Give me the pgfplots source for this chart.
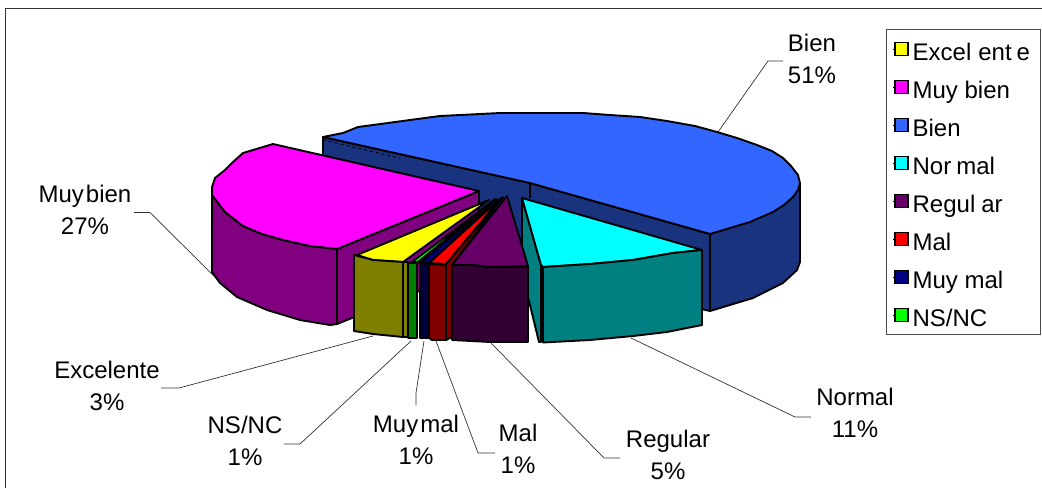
\documentclass[border=0pt]{standalone}
\usepackage{fontspec}
\setmainfont{Liberation Sans}
\usepackage{pgfplots}
\pgfplotsset{compat=1.18}

\definecolor{cBien}{HTML}{3366FF}
\definecolor{cBienS}{HTML}{1A337F}
\definecolor{cMuyBien}{HTML}{FF00FF}
\definecolor{cMuyBienS}{HTML}{800080}
\definecolor{cNormal}{HTML}{00FFFF}
\definecolor{cNormalS}{HTML}{008080}
\definecolor{cRegular}{HTML}{660066}
\definecolor{cRegularS}{HTML}{330033}
\definecolor{cMal}{HTML}{FF0000}
\definecolor{cMalS}{HTML}{800000}
\definecolor{cMuyMal}{HTML}{000080}
\definecolor{cMuyMalS}{HTML}{000040}
\definecolor{cNsnc}{HTML}{00FF00}
\definecolor{cNsncS}{HTML}{008000}
\definecolor{cExc}{HTML}{FFFF00}
\definecolor{cExcS}{HTML}{808000}

\pgfplotsset{
  slice/.style={draw=black,line width=1.9pt,line join=round,forget plot},
  leader/.style={draw=black!80,line width=0.7pt,forget plot},
}
\tikzset{lbl/.style={align=center,font=\fontsize{24}{32}\selectfont,inner sep=0pt}}

\begin{document}
\begin{tikzpicture}
\begin{axis}[
  width=1042pt,height=488pt,scale only axis,
  xmin=0,xmax=1042,ymin=0,ymax=488,y dir=reverse,
  hide axis,
  legend style={at={(axis cs:886,29)},anchor=north west,draw=black!70,line width=0.9pt,
    font=\fontsize{24}{28}\selectfont,inner xsep=6pt,inner ysep=6pt,row sep=11pt,
    nodes={inner xsep=4pt,inner ysep=1pt,text height=24pt,text depth=1pt}},
  legend cell align=left,
  legend image code/.code={\path (0pt,0pt) -- (2pt,0pt);\draw[#1,line width=1.5pt] (2pt,-6.5pt) rectangle (15pt,6.5pt);},
]
\path (axis cs:0,0) -- (axis cs:1042,488);
% frame
\addplot[draw=black!80,line width=1.3pt,forget plot] coordinates {(5.5,488) (5.5,8.5) (1042,8.5)};

% leaders
\addplot[leader] coordinates {(783,61) (768,61) (718,132)};
\addplot[leader] coordinates {(134,212.5) (150,212.5) (214,276)};
\addplot[leader] coordinates {(161,388) (179,388) (373,336)};
\addplot[leader] coordinates {(284,444) (300,444) (411,341)};
\addplot[leader] coordinates {(416,405) (416,393) (424,341)};
\addplot[leader] coordinates {(495,453) (478,453) (436,341)};
\addplot[leader] coordinates {(620,458) (604,458) (491,343)};
\addplot[leader] coordinates {(811,417) (795,417) (631,338)};

% Bien
\addplot[slice,fill=cBienS] coordinates {(323,137) (530,183) (710,234) (710,311) (530,270) (323,213)} --cycle;
\addplot[slice,fill=cBienS] coordinates {(710,234) (800,183) (800,262) (797,270) (783,283) (753,298) (710,311)} --cycle;
\addplot[slice,fill=cBien] coordinates {(323,137) (343,133) (358,127) (373,125) (410,120) (440,116) (500,113) (583,113) (610,115) (640,117) (667,121) (695,126) (717,132) (737,138) (757,145) (772,151) (783,158) (791,166) (798,175) (800,183) (798,190) (793,197) (784,205) (773,212) (750,222) (730,228) (710,234) (530,183)} --cycle;
\addplot[draw=black,line width=1.3pt,forget plot] coordinates {(530,183) (530,198)};
\addplot[draw=black,line width=0.9pt,dashed,forget plot] coordinates {(323,140) (400,158)};

% Muy bien
\addplot[slice,fill=cMuyBienS] coordinates {(337,249) (479,191) (479,267) (337,324)} --cycle;
\addplot[slice,fill=cMuyBienS] coordinates {(212,195) (225,212) (243,226) (262,234) (283,240) (310,246) (337,249) (337,324) (330,325) (300,320) (267,310) (237,297) (220,283) (212,272)} --cycle;
\addplot[slice,fill=cMuyBien] coordinates {(479,191) (273,144) (243,153) (233,162) (225,170) (215,178) (212,187) (212,195) (225,212) (243,226) (262,234) (283,240) (310,246) (337,249)} --cycle;

% Normal
\addplot[slice,fill=cNormalS] coordinates {(522,198) (541,265) (541,342) (539,342) (528,297) (522,270)} --cycle;
\addplot[slice,fill=cNormal] coordinates {(522,198) (702,250) (673,253) (633,260) (590,264) (543,267) (541,265)} --cycle;
\addplot[slice,fill=cNormalS] coordinates {(543,267) (590,264) (633,260) (673,253) (702,250) (702,325) (667,332) (633,336) (590,340) (543,342.5)} --cycle;

% Regular
\addplot[slice,fill=cRegular] coordinates {(507,196) (528,266) (487,267) (473,265) (452,265)} --cycle;
\addplot[slice,fill=cRegularS] coordinates {(452,265) (473,265) (487,267) (528,267) (528,342) (490,342) (452,340)} --cycle;

% Mal
\addplot[slice,fill=cMalS] coordinates {(503,197) (452,265) (452,337) (446,340) (446,264)} --cycle;
\addplot[slice,fill=cMal] coordinates {(501,198) (446,264) (429,263)} --cycle;
\addplot[slice,fill=cMalS] coordinates {(429,264) (446,265) (446,340) (432,340) (429,338)} --cycle;

% Muy mal
\addplot[slice,fill=cMuyMal] coordinates {(497,199) (429,263) (420,263)} --cycle;
\addplot[slice,fill=cMuyMalS] coordinates {(420,263) (429,264) (429,338) (420,338)} --cycle;

% NS/NC
\addplot[slice,fill=cNsnc] coordinates {(495,199) (418,262) (412,262)} --cycle;
\addplot[slice,fill=cNsncS] coordinates {(408,263) (417,263) (417,338) (408,338)} --cycle;

% Excelente
\addplot[slice,fill=cExcS] coordinates {(403,262) (408,262) (408,337) (403,337)} --cycle;
\addplot[slice,fill=cExc] coordinates {(489,200) (403,262) (373,260) (357,255)} --cycle;
\addplot[slice,fill=cExcS] coordinates {(354,255) (373,260) (403,262) (403,337) (373,334) (354,331)} --cycle;

\node[lbl] at (axis cs:812,59) {Bien\\51\%};
\node[lbl] at (axis cs:85,210) {Muy\kern2pt bien\\27\%};
\node[lbl] at (axis cs:107,386) {Excelente\\3\%};
\node[lbl] at (axis cs:245,441) {NS/NC\\1\%};
\node[lbl] at (axis cs:416,440) {Muy\kern2pt mal\\1\%};
\node[lbl] at (axis cs:518,449) {Mal\\1\%};
\node[lbl] at (axis cs:668,455) {Regular\\5\%};
\node[lbl] at (axis cs:855,413) {Normal\\11\%};

% legend
\addlegendimage{fill=cExc}\addlegendentry{Excel\kern7pt ent\kern5pt e}
\addlegendimage{fill=cMuyBien}\addlegendentry{Muy bien}
\addlegendimage{fill=cBien}\addlegendentry{Bien}
\addlegendimage{fill=cNormal}\addlegendentry{Nor\kern5pt mal}
\addlegendimage{fill=cRegular}\addlegendentry{Regul\kern6pt ar}
\addlegendimage{fill=cMal}\addlegendentry{Mal}
\addlegendimage{fill=cMuyMal}\addlegendentry{Muy mal}
\addlegendimage{fill=cNsnc}\addlegendentry{NS/NC}
\end{axis}
\end{tikzpicture}
\end{document}
